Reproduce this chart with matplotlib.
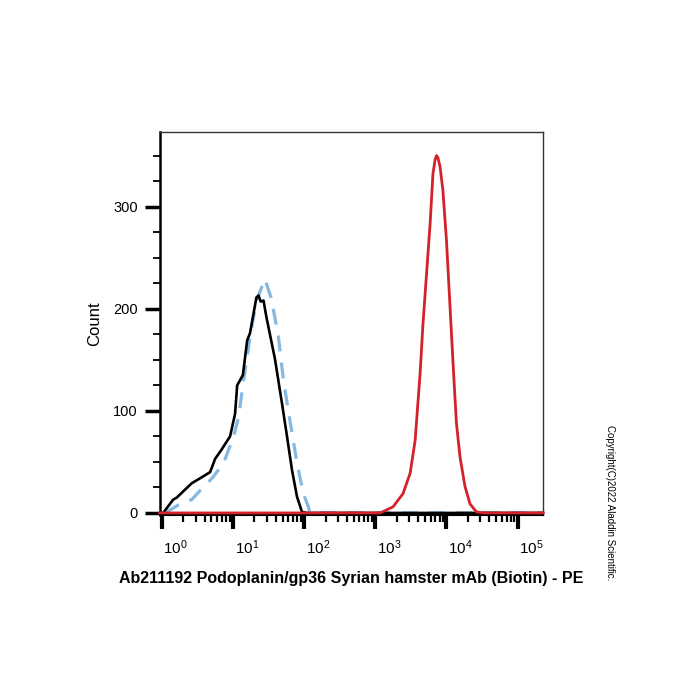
"""
Flow cytometry histogram: Podoplanin/gp36 staining (PE)
"""

import matplotlib
matplotlib.use("Agg")
import matplotlib.pyplot as plt
import numpy as np
from matplotlib.transforms import ScaledTranslation
from matplotlib.ticker import FixedLocator

plt.rcParams['font.family'] = ['Liberation Sans', 'DejaVu Sans']
plt.rcParams['mathtext.fontset'] = 'custom'
plt.rcParams['mathtext.rm'] = 'Liberation Sans'

# log10 of fluorescence intensity, counts
black_log = [0.02, 0.16, 0.21, 0.30, 0.42, 0.54, 0.68, 0.75, 0.84, 0.96, 1.03, 1.06,
             1.14, 1.20, 1.24, 1.33, 1.36, 1.39, 1.43, 1.47, 1.59, 1.69, 1.76, 1.83,
             1.90, 1.97, 2.04, 5.35]
black_cnt = [0, 13, 15, 21, 29, 34, 40, 53, 62, 75, 97, 125,
             135, 169, 176, 211, 213, 207, 208, 192, 151, 107, 75, 42,
             16, 1, 0, 0]

blue_log = [0.05, 0.26, 0.42, 0.54, 0.72, 0.87, 1.01, 1.08, 1.15, 1.24, 1.33, 1.45,
            1.54, 1.64, 1.71, 1.80, 1.90, 1.99, 2.06, 2.08, 2.15, 5.35]
blue_cnt = [0, 9, 13, 22, 35, 49, 75, 94, 130, 172, 208, 229,
            210, 172, 130, 91, 49, 19, 6, 1, 0, 0]

red_log = [-0.03, 3.07, 3.25, 3.39, 3.49, 3.56, 3.63, 3.67, 3.72, 3.77, 3.81, 3.84,
           3.86, 3.88, 3.91, 3.95, 4.00, 4.05, 4.10, 4.14, 4.19, 4.26, 4.33, 4.42,
           4.52, 5.36]
red_cnt = [0, 0, 6, 19, 39, 71, 137, 185, 234, 283, 332, 346,
           350, 348, 339, 316, 267, 202, 137, 88, 55, 26, 9, 1,
           0, 0]

decades = [0, 1, 2, 3, 4, 5]
y_major = [0, 100, 200, 300]
y_minor = [25, 50, 75, 125, 150, 175, 225, 250, 275, 325, 350]

xlabel = 'Ab211192 Podoplanin/gp36 Syrian hamster mAb (Biotin) - PE'
copyright_text = 'Copyright(C)2022 Aladdin Scientific.'

fig = plt.figure(figsize=(7, 7), dpi=100)
ax = fig.add_axes([0.2286, 0.2643, 0.547, 0.547])

ax.plot(10 ** np.array(black_log), black_cnt, color='black', lw=1.9, zorder=3)
ax.plot(10 ** np.array(blue_log), blue_cnt, color='#86b8e0', lw=2.3,
        dashes=(5, 3.5), zorder=2)
ax.plot(10 ** np.array(red_log), red_cnt, color='#d3222a', lw=2.0, zorder=4,
        clip_on=False)

ax.set_xscale('log')
ax.set_xlim(10 ** -0.024, 10 ** 5.355)
ax.set_ylim(-2, 373)

# x ticks: decades + minor 2..9
ax.xaxis.set_major_locator(FixedLocator([10.0 ** d for d in decades]))
minors = [m * 10.0 ** d for d in range(0, 5) for m in range(2, 10)]
ax.xaxis.set_minor_locator(FixedLocator(minors))
ax.set_xticklabels([r'$\mathregular{10^{%d}}$' % d for d in decades])
ax.tick_params(axis='x', which='major', direction='out', length=10, width=3,
               labelsize=11, pad=7)
ax.tick_params(axis='x', which='minor', direction='out', length=5, width=1.6)
for lab in ax.get_xticklabels():
    lab.set_transform(lab.get_transform() + ScaledTranslation(0.14, 0, fig.dpi_scale_trans))

ax.yaxis.set_major_locator(FixedLocator(y_major))
ax.yaxis.set_minor_locator(FixedLocator(y_minor))
ax.tick_params(axis='y', which='major', direction='out', length=11, width=2.5,
               labelsize=10.5, pad=5)
ax.tick_params(axis='y', which='minor', direction='out', length=5, width=1.3)

for side in ['top', 'right']:
    ax.spines[side].set_linewidth(1.0)
    ax.spines[side].set_color('#333333')
ax.spines['left'].set_linewidth(1.8)
ax.spines['bottom'].set_linewidth(1.5)

ax.set_ylabel('Count', fontsize=12, labelpad=8)
ax.set_xlabel(xlabel, fontsize=11.5, fontweight='bold', labelpad=10)

fig.text(0.872, 0.393, copyright_text, rotation=270, fontsize=7,
         ha='center', va='top', transform=fig.transFigure)

fig.savefig('out.png', dpi=100)
